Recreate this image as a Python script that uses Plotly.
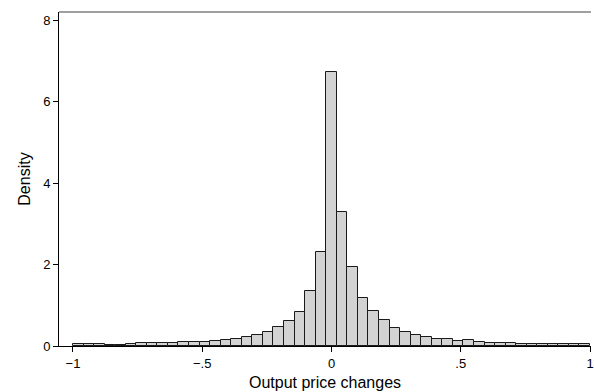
import plotly.graph_objects as go

# Histogram of output price changes: 49 equal bins over [-1, 1]
bin_start = -1.0
bin_end = 1.0
density = [
    0.05, 0.05, 0.05, 0.035, 0.035, 0.04, 0.065, 0.065, 0.065, 0.07,
    0.09, 0.10, 0.10, 0.13, 0.14, 0.17, 0.22, 0.27, 0.35, 0.46,
    0.615, 0.845, 1.34, 2.30, 6.73, 3.30, 1.94, 1.17, 0.86, 0.63,
    0.45, 0.34, 0.26, 0.21, 0.18, 0.17, 0.12, 0.14, 0.105, 0.075,
    0.07, 0.07, 0.05, 0.05, 0.045, 0.045, 0.04, 0.04, 0.045,
]
x_tick_vals = [-1, -0.5, 0, 0.5, 1]
x_tick_text = ["\u22121", "\u2212.5", "0", ".5", "1"]
y_tick_vals = [0, 2, 4, 6, 8]
y_tick_text = ["0", "2", "4", "6", "8"]

n_bins = len(density)
width = (bin_end - bin_start) / n_bins
centers = [bin_start + (i + 0.5) * width for i in range(n_bins)]

FONT = "Liberation Sans, Arial, Helvetica, sans-serif"

fig = go.Figure(
    go.Bar(
        x=centers,
        y=density,
        width=width,
        marker=dict(color="#d3d3d3", line=dict(color="#1a1a1a", width=1)),
        hoverinfo="skip",
    )
)

fig.update_layout(
    width=594,
    height=392,
    margin=dict(l=59, r=0, t=12, b=46),
    paper_bgcolor="white",
    plot_bgcolor="white",
    showlegend=False,
    bargap=0,
    font=dict(family=FONT, color="black", size=13),
    xaxis=dict(
        range=[-1.054, 1.0038],
        tickmode="array",
        tickvals=x_tick_vals,
        ticktext=x_tick_text,
        ticks="outside",
        ticklen=5,
        tickwidth=1,
        tickcolor="black",
        ticklabeloverflow="allow",
        showline=True,
        linecolor="black",
        linewidth=1,
        showgrid=False,
        zeroline=False,
        tickfont=dict(size=13),
        title=dict(text="Output price changes", font=dict(size=16), standoff=7),
    ),
    yaxis=dict(
        range=[0, 8.21],
        tickmode="array",
        tickvals=y_tick_vals,
        ticktext=y_tick_text,
        ticks="outside",
        ticklen=5,
        tickwidth=1,
        tickcolor="black",
        showline=True,
        linecolor="black",
        linewidth=1,
        showgrid=False,
        zeroline=False,
        tickfont=dict(size=13),
        title=dict(text="Density", font=dict(size=16), standoff=8),
    ),
    shapes=[
        dict(type="line", xref="paper", yref="paper", x0=0, x1=1, y0=1, y1=1,
             line=dict(color="#808080", width=1.5)),
    ],
)

fig.write_html("out.html")
